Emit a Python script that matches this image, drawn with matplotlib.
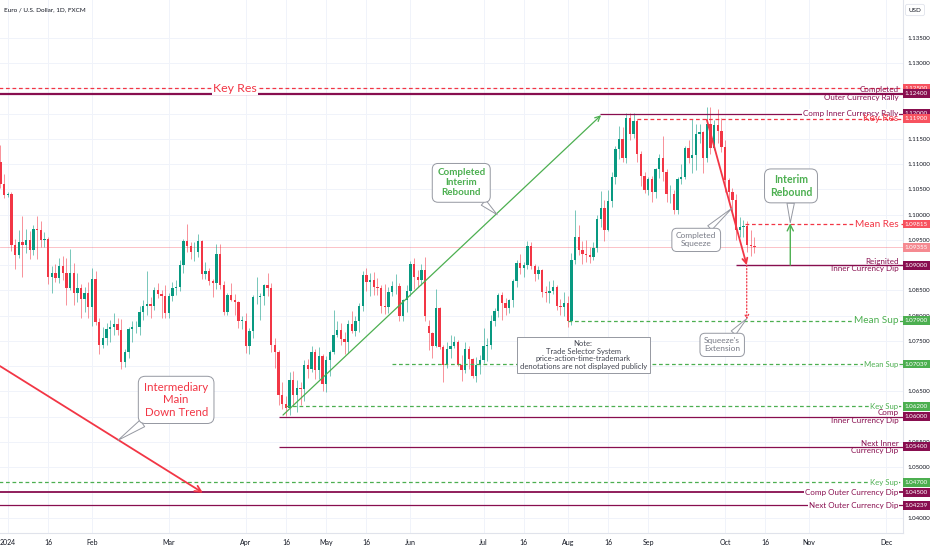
import numpy as np
import pandas as pd
import matplotlib
matplotlib.use('Agg')
import matplotlib.pyplot as plt
from matplotlib.transforms import blended_transform_factory

plt.rcParams['font.family'] = ['Lato', 'DejaVu Sans']

# EUR/USD daily bars 28 Dec 2023 .. 11 Oct 2024
opens = [
    1.1105, 1.1061,  # Dec 23
    1.1038, 1.1040, 1.0940, 1.0920, 1.0946, 1.0940, 1.0950, 1.0930, 1.0972, 1.0970, 1.0950, 1.0952,
    1.0877, 1.0885, 1.0875, 1.0898, 1.0885, 1.0855, 1.0885, 1.0845, 1.0855, 1.0833, 1.0845,  # Jan
    1.0818, 1.0873, 1.0788, 1.0742, 1.0755, 1.0773, 1.0778, 1.0784, 1.0772, 1.0708, 1.0728,
    1.0773, 1.0777, 1.0778, 1.0808, 1.0820, 1.0823, 1.0820, 1.0850, 1.0843, 1.0838,  # Feb
    1.0805, 1.0838, 1.0855, 1.0856, 1.0900, 1.0947, 1.0938, 1.0926, 1.0927, 1.0948, 1.0882,
    1.0888, 1.0868, 1.0865, 1.0922, 1.0860, 1.0808, 1.0840, 1.0830, 1.0826, 1.0790,  # Mar
    1.0790, 1.0740, 1.0770, 1.0836, 1.0836, 1.0838, 1.0860, 1.0855, 1.0742, 1.0727, 1.0642,
    1.0624, 1.0617, 1.0672, 1.0643, 1.0656, 1.0655, 1.0703, 1.0695, 1.0727, 1.0692, 1.0720,  # Apr
    1.0665, 1.0712, 1.0727, 1.0762, 1.0772, 1.0753, 1.0748, 1.0784, 1.0770, 1.0790, 1.0820, 1.0881,
    1.0866, 1.0870, 1.0856, 1.0855, 1.0820, 1.0817, 1.0847, 1.0858, 1.0859, 1.0800, 1.0830,  # May
    1.0849, 1.0902, 1.0877, 1.0870, 1.0890, 1.0780, 1.0765, 1.0740, 1.0815, 1.0738,
    1.0702, 1.0733, 1.0740, 1.0748, 1.0703, 1.0692, 1.0734, 1.0714, 1.0680, 1.0703,  # Jun
    1.0713, 1.0740, 1.0742, 1.0790, 1.0810, 1.0840, 1.0825, 1.0815, 1.0830, 1.0868, 1.0905, 1.0894,
    1.0900, 1.0937, 1.0898, 1.0882, 1.0890, 1.0846, 1.0845, 1.0848, 1.0856, 1.0820, 1.0817,  # Jul
    1.0825, 1.0790, 1.0910, 1.0955, 1.0930, 1.0922, 1.0920, 1.0916, 1.0933, 1.0992, 1.1013,
    1.0970, 1.1028, 1.1075, 1.1130, 1.1150, 1.1113, 1.1192, 1.1160, 1.1185, 1.1120, 1.1077,  # Aug
    1.1048, 1.1070, 1.1044, 1.1090, 1.1112, 1.1085, 1.1040, 1.1040, 1.1010, 1.1070, 1.1075,
    1.1132, 1.1113, 1.1118, 1.1160, 1.1163, 1.1112, 1.1180, 1.1133, 1.1177, 1.1165,  # Sep
    1.1135, 1.1068, 1.1045, 1.1030, 1.0970, 1.0976, 1.0978, 1.0940, 1.0937,  # Oct
]
highs = [
    1.1139, 1.1080,
    1.1044, 1.1045, 1.0951, 1.0970, 1.0998, 1.0972, 1.0968, 1.0979, 1.0998, 1.0988, 1.0965, 1.0956,
    1.0898, 1.0903, 1.0914, 1.0919, 1.0915, 1.0932, 1.0905, 1.0885, 1.0862, 1.0857, 1.0866,
    1.0895, 1.0889, 1.0795, 1.0778, 1.0786, 1.0792, 1.0805, 1.0795, 1.0794, 1.0733, 1.0777,
    1.0790, 1.0790, 1.0820, 1.0830, 1.0888, 1.0837, 1.0856, 1.0865, 1.0850, 1.0860,
    1.0845, 1.0867, 1.0870, 1.0911, 1.0951, 1.0981, 1.0945, 1.0945, 1.0962, 1.0950, 1.0906,
    1.0894, 1.0872, 1.0942, 1.0942, 1.0869, 1.0844, 1.0864, 1.0843, 1.0828, 1.0800,
    1.0805, 1.0776, 1.0841, 1.0876, 1.0844, 1.0862, 1.0885, 1.0865, 1.0756, 1.0732, 1.0668,
    1.0640, 1.0688, 1.0690, 1.0672, 1.0668, 1.0712, 1.0715, 1.0740, 1.0734, 1.0738, 1.0724,
    1.0720, 1.0731, 1.0812, 1.0790, 1.0785, 1.0767, 1.0791, 1.0810, 1.0800, 1.0825, 1.0888, 1.0895,
    1.0884, 1.0886, 1.0874, 1.0861, 1.0862, 1.0857, 1.0868, 1.0883, 1.0864, 1.0833, 1.0860,
    1.0908, 1.0915, 1.0891, 1.0902, 1.0916, 1.0791, 1.0768, 1.0852, 1.0818, 1.0742,
    1.0748, 1.0761, 1.0760, 1.0752, 1.0722, 1.0748, 1.0740, 1.0717, 1.0718, 1.0722,
    1.0776, 1.0755, 1.0801, 1.0816, 1.0845, 1.0846, 1.0834, 1.0833, 1.0872, 1.0910, 1.0922, 1.0906,
    1.0948, 1.0945, 1.0903, 1.0898, 1.0893, 1.0858, 1.0869, 1.0870, 1.0860, 1.0832, 1.0847,
    1.0838, 1.0925, 1.1009, 1.0980, 1.0948, 1.0949, 1.0935, 1.0946, 1.1000, 1.1046, 1.1029,
    1.1048, 1.1084, 1.1137, 1.1175, 1.1174, 1.1201, 1.1202, 1.1202, 1.1189, 1.1127, 1.1084,
    1.1075, 1.1077, 1.1093, 1.1121, 1.1155, 1.1090, 1.1058, 1.1048, 1.1075, 1.1100, 1.1136,
    1.1147, 1.1189, 1.1180, 1.1180, 1.1166, 1.1214, 1.1214, 1.1188, 1.1209, 1.1192,
    1.1148, 1.1073, 1.1052, 1.1040, 1.0996, 1.0990, 1.0988, 1.0969, 1.0955,
]
lows = [
    1.1053, 1.1033,
    1.1035, 1.0928, 1.0892, 1.0914, 1.0876, 1.0925, 1.0912, 1.0920, 1.0912, 1.0936, 1.0935, 1.0862,
    1.0844, 1.0866, 1.0865, 1.0870, 1.0821, 1.0850, 1.0822, 1.0827, 1.0795, 1.0807, 1.0796,
    1.0779, 1.0781, 1.0723, 1.0735, 1.0742, 1.0748, 1.0762, 1.0761, 1.0695, 1.0698, 1.0716,
    1.0747, 1.0765, 1.0761, 1.0792, 1.0802, 1.0796, 1.0812, 1.0835, 1.0796, 1.0795,
    1.0795, 1.0829, 1.0840, 1.0849, 1.0885, 1.0926, 1.0912, 1.0908, 1.0916, 1.0873, 1.0873,
    1.0860, 1.0836, 1.0852, 1.0852, 1.0801, 1.0802, 1.0829, 1.0801, 1.0776, 1.0774,
    1.0725, 1.0724, 1.0755, 1.0823, 1.0792, 1.0822, 1.0839, 1.0728, 1.0697, 1.0622, 1.0614,
    1.0601, 1.0604, 1.0620, 1.0610, 1.0623, 1.0630, 1.0676, 1.0689, 1.0675, 1.0674, 1.0650,
    1.0649, 1.0681, 1.0723, 1.0757, 1.0741, 1.0724, 1.0725, 1.0765, 1.0760, 1.0767, 1.0809, 1.0848,
    1.0838, 1.0840, 1.0840, 1.0805, 1.0804, 1.0805, 1.0838, 1.0842, 1.0789, 1.0789, 1.0808,
    1.0838, 1.0853, 1.0857, 1.0860, 1.0790, 1.0732, 1.0716, 1.0737, 1.0733, 1.0668,
    1.0697, 1.0716, 1.0735, 1.0700, 1.0671, 1.0686, 1.0694, 1.0676, 1.0669, 1.0685,
    1.0707, 1.0710, 1.0733, 1.0780, 1.0798, 1.0791, 1.0801, 1.0806, 1.0818, 1.0857, 1.0882, 1.0876,
    1.0892, 1.0892, 1.0868, 1.0873, 1.0836, 1.0826, 1.0825, 1.0842, 1.0812, 1.0802, 1.0800,
    1.0777, 1.0781, 1.0903, 1.0921, 1.0902, 1.0906, 1.0905, 1.0910, 1.0926, 1.0975, 1.0948,
    1.0968, 1.1016, 1.1060, 1.1110, 1.1105, 1.1103, 1.1148, 1.1152, 1.1105, 1.1057, 1.1042,
    1.1038, 1.1026, 1.1033, 1.1072, 1.1067, 1.1026, 1.1023, 1.1002, 1.1001, 1.1060, 1.1070,
    1.1102, 1.1083, 1.1089, 1.1142, 1.1083, 1.1104, 1.1121, 1.1129, 1.1141, 1.1125,
    1.1045, 1.1030, 1.1006, 1.0950, 1.0955, 1.0956, 1.0927, 1.0918, 1.0924,
]
closes = [
    1.1061, 1.1038,
    1.1040, 1.0940, 1.0920, 1.0946, 1.0940, 1.0950, 1.0930, 1.0972, 1.0970, 1.0950, 1.0952, 1.0877,
    1.0885, 1.0875, 1.0898, 1.0885, 1.0855, 1.0885, 1.0845, 1.0855, 1.0833, 1.0845, 1.0818,
    1.0873, 1.0788, 1.0742, 1.0755, 1.0773, 1.0778, 1.0784, 1.0772, 1.0708, 1.0728, 1.0773,
    1.0777, 1.0778, 1.0808, 1.0820, 1.0823, 1.0820, 1.0850, 1.0843, 1.0838, 1.0805,
    1.0838, 1.0855, 1.0856, 1.0900, 1.0947, 1.0938, 1.0926, 1.0927, 1.0948, 1.0882, 1.0888,
    1.0868, 1.0865, 1.0922, 1.0860, 1.0808, 1.0840, 1.0830, 1.0826, 1.0790, 1.0790,
    1.0740, 1.0770, 1.0836, 1.0836, 1.0838, 1.0860, 1.0855, 1.0742, 1.0727, 1.0642, 1.0624,
    1.0617, 1.0672, 1.0643, 1.0656, 1.0655, 1.0703, 1.0695, 1.0727, 1.0692, 1.0720, 1.0665,
    1.0712, 1.0727, 1.0762, 1.0772, 1.0753, 1.0748, 1.0784, 1.0770, 1.0790, 1.0820, 1.0881, 1.0866,
    1.0870, 1.0856, 1.0855, 1.0820, 1.0817, 1.0847, 1.0858, 1.0859, 1.0800, 1.0830, 1.0849,
    1.0902, 1.0877, 1.0870, 1.0890, 1.0800, 1.0765, 1.0740, 1.0815, 1.0738, 1.0702,
    1.0733, 1.0740, 1.0748, 1.0703, 1.0692, 1.0734, 1.0714, 1.0680, 1.0703, 1.0713,
    1.0740, 1.0742, 1.0790, 1.0810, 1.0840, 1.0825, 1.0815, 1.0830, 1.0868, 1.0905, 1.0894, 1.0900,
    1.0937, 1.0898, 1.0882, 1.0890, 1.0846, 1.0845, 1.0848, 1.0856, 1.0820, 1.0817, 1.0825,
    1.0790, 1.0910, 1.0955, 1.0930, 1.0922, 1.0920, 1.0916, 1.0933, 1.0992, 1.1013, 1.0970,
    1.1028, 1.1075, 1.1130, 1.1150, 1.1113, 1.1192, 1.1160, 1.1185, 1.1120, 1.1077, 1.1048,
    1.1070, 1.1044, 1.1090, 1.1112, 1.1085, 1.1040, 1.1040, 1.1010, 1.1070, 1.1075, 1.1132,
    1.1113, 1.1118, 1.1160, 1.1163, 1.1112, 1.1180, 1.1133, 1.1177, 1.1165, 1.1135,
    1.1068, 1.1045, 1.1030, 1.0970, 1.0976, 1.0978, 1.0940, 1.0937, 1.0936,
]

tick_dates = ['2024-01-01', '2024-01-16', '2024-02-01', '2024-03-01', '2024-04-01', '2024-04-16',
              '2024-05-01', '2024-05-16', '2024-06-03', '2024-07-01', '2024-07-16', '2024-08-01',
              '2024-08-16', '2024-09-02', '2024-10-01', '2024-10-16', '2024-11-01', '2024-12-02']
tick_names = ['2024', '16', 'Feb', 'Mar', 'Apr', '16', 'May', '16', 'Jun', 'Jul', '16', 'Aug',
              '16', 'Sep', 'Oct', '16', 'Nov', 'Dec']

last_price = 1.09355
# price-scale labels that TradingView hides behind the level tags
hidden_ticks = [1.125, 1.120, 1.090, 1.070, 1.060, 1.045]

GREEN = '#089981'
RED = '#F23645'
PURPLE = '#880E4F'
LGREEN = '#4CAF50'
GREY = '#787B86'

days = pd.bdate_range('2023-12-28', '2024-12-31')  # one slot per weekday
x = np.arange(len(closes))
o = np.array(opens); h = np.array(highs); l = np.array(lows); c = np.array(closes)

fig = plt.figure(figsize=(9.32, 5.5), dpi=100)
ax = fig.add_axes([0, 17 / 550, 903 / 932, 533 / 550])
XMAX = 246.6
ax.set_xlim(-0.13, XMAX)
ax.set_ylim(1.03693, 1.14253)

# grid + axes look
yt = np.round(np.arange(1.040, 1.1351, 0.005), 3)
ax.set_yticks(yt)
ax.set_yticklabels(['' if v in hidden_ticks else f'{v:.5f}' for v in yt])
ax.yaxis.tick_right()
ax.set_xticks([days.get_loc(pd.Timestamp(d)) for d in tick_dates])
ax.set_xticklabels(tick_names)
ax.tick_params(axis='y', length=0, labelsize=4.4, colors='#131722', pad=3)
ax.tick_params(axis='x', length=0, labelsize=5.0, colors='#131722', pad=4)
ax.grid(True, color='#f0f3fa', lw=0.7)
ax.set_axisbelow(True)
for s in ['top', 'left']:
    ax.spines[s].set_visible(False)
for s in ['right', 'bottom']:
    ax.spines[s].set_color('#e0e3eb')
    ax.spines[s].set_linewidth(0.8)

# candles
up = c >= o
col = np.where(up, GREEN, RED)
ax.vlines(x, l, h, colors=col, lw=0.7, alpha=0.55, zorder=3)
body = np.maximum(np.abs(c - o), 0.00008)
ax.bar(x, body, bottom=np.minimum(o, c), width=0.64, color=col, zorder=3)

# current price line
ax.axhline(last_price, color=RED, lw=0.6, alpha=0.35, zorder=2)

trans = blended_transform_factory(ax.transAxes, ax.transData)


def level(price, color, ls, x0, lw=0.9):
    if ls == '--':
        ax.hlines(price, x0, XMAX, colors=color, lw=lw, linestyles=(0, (3, 2.2)), zorder=4)
    else:
        ax.hlines(price, x0, XMAX, colors=color, lw=lw, zorder=4)


def price_box(price, color):
    ax.annotate(f'{price:.5f}', xy=(1, price), xycoords=trans, xytext=(1.4, 0),
                textcoords='offset points', ha='left', va='center', fontsize=4.5,
                color='white', annotation_clip=False, zorder=10,
                bbox=dict(boxstyle='square,pad=0.3', fc=color, ec='none'))


def rlabel(price, text, color, size=5.8, white=False, **kw):
    bb = dict(boxstyle='square,pad=0.1', fc='white', ec='none') if white else None
    ax.text(0.995, price, text, transform=trans, ha='right', va='center', color=color,
            fontsize=size, bbox=bb, zorder=6, linespacing=1.1, **kw)


level(1.1250, RED, '--', -1)
level(1.1240, PURPLE, '-', -1, lw=1.6)
level(1.1200, PURPLE, '-', 163.9)
level(1.1190, RED, '--', 173.9)
level(1.09815, RED, '--', 203.5)
level(1.0900, PURPLE, '-', 201, lw=1.0)
level(1.0790, LGREEN, '--', 155)
level(1.07039, LGREEN, '--', 107)
level(1.0620, LGREEN, '--', 78)
level(1.0600, PURPLE, '-', 76)
level(1.0540, PURPLE, '-', 76)
level(1.0470, LGREEN, '--', -1)
level(1.0450, PURPLE, '-', -1, lw=1.3)
level(1.04239, PURPLE, '-', -1)

ax.text(64.1, 1.1250, 'Key Res', color=RED, fontsize=8.9, ha='center', va='center', zorder=6,
        bbox=dict(boxstyle='square,pad=0.1', fc='white', ec='none'))

rlabel(1.1240, 'Completed\nOuter Currency Rally', PURPLE)
rlabel(1.1200, 'Comp Inner Currency Rally', PURPLE, white=True)
rlabel(1.1190, 'Key Res', RED, size=7.2)
rlabel(1.09815, 'Mean Res', RED, size=7.2, white=True)
rlabel(1.0900, 'Reignited\nInner Currency Dip', PURPLE)
rlabel(1.0790, 'Mean Sup', LGREEN, size=7.2, white=True)
rlabel(1.07039, 'Mean Sup', LGREEN, size=5.6, white=True)
rlabel(1.0620, 'Key Sup', LGREEN, size=5.6, white=True)
rlabel(1.0600, 'Comp\nInner Currency Dip', PURPLE)
rlabel(1.0540, 'Next Inner\nCurrency Dip', PURPLE)
rlabel(1.0470, 'Key Sup', LGREEN, size=5.6, white=True)
rlabel(1.0450, 'Comp Outer Currency Dip', PURPLE, white=True)
rlabel(1.04239, 'Next Outer Currency Dip', PURPLE, white=True)

price_box(1.12500, '#F7525F')
price_box(1.12400, PURPLE)
price_box(1.12000, PURPLE)
price_box(1.11900, '#F7525F')
price_box(1.09815, '#F7525F')
price_box(last_price, '#F58A91')
price_box(1.09000, PURPLE)
price_box(1.07900, LGREEN)
price_box(1.07039, LGREEN)
price_box(1.06200, LGREEN)
price_box(1.06000, PURPLE)
price_box(1.05400, PURPLE)
price_box(1.04700, LGREEN)
price_box(1.04500, PURPLE)
price_box(1.04239, PURPLE)


def arrow(p0, p1, color, lw=1.0, ls='-', ms=9):
    ax.annotate('', xy=p1, xytext=p0, zorder=7,
                arrowprops=dict(arrowstyle='->', color=color, lw=lw, linestyle=ls,
                                shrinkA=0, shrinkB=0, mutation_scale=ms))


arrow((77.2, 1.0603), (164.1, 1.1197), LGREEN, lw=0.9)
arrow((-0.13, 1.0700), (55.3, 1.0449), RED, lw=1.3, ms=11)
arrow((193.0, 1.1188), (203.9, 1.0900), RED, lw=1.3)
arrow((203.9, 1.0900), (203.9, 1.0792), RED, lw=0.9, ls=':', ms=7)
arrow((215.8, 1.0900), (215.8, 1.0983), LGREEN, lw=1.0, ms=11)


def callout(text, xy_text, xy_tip, color, size, weight='normal'):
    ax.annotate(text, xy=xy_tip, xytext=xy_text, ha='center', va='center', color=color,
                fontsize=size, fontweight=weight, zorder=8, linespacing=1.15,
                bbox=dict(boxstyle='round,pad=0.5,rounding_size=0.6', fc='white',
                          ec='#9598A1', lw=0.7),
                arrowprops=dict(arrowstyle='wedge,tail_width=0.7', fc='white', ec='#9598A1',
                                lw=0.7, shrinkA=0, shrinkB=0))


callout('Completed\nInterim\nRebound', (125.9, 1.1063), (135.7, 1.1000), LGREEN, 7.0, 'bold')
callout('Intermediary\nMain\nDown Trend', (48.0, 1.0633), (32.1, 1.0553), RED, 8.3)
callout('Completed\nSqueeze', (190.1, 1.0950), (199.9, 1.1013), GREY, 6.0)
callout("Squeeze's\nExtension", (197.2, 1.0742), (203.9, 1.0794), GREY, 6.0)
callout('Interim\nRebound', (216.0, 1.1057), (215.8, 1.0984), LGREEN, 7.6, 'bold')

ax.text(159.2, 1.0722,
        'Note:\nTrade Selector System\nprice-action-time-trademark\ndenotations are not displayed publicly',
        ha='center', va='center', fontsize=5.5, color='#434651', zorder=8, linespacing=1.15,
        bbox=dict(boxstyle='square,pad=0.4', fc='white', ec='#9598A1', lw=0.7))

# header and currency tag
fig.text(4 / 932, 1 - 10 / 550, 'Euro / U.S. Dollar, 1D, FXCM', fontsize=4.6, color='#131722',
         va='center', ha='left')
fig.text(915 / 932, 1 - 10 / 550, 'USD', fontsize=4.5, color='#131722', va='center', ha='center',
         bbox=dict(boxstyle='round,pad=0.5,rounding_size=0.3', fc='white', ec='#e0e3eb', lw=0.6))

fig.savefig('out.png', dpi=100, facecolor='white')
